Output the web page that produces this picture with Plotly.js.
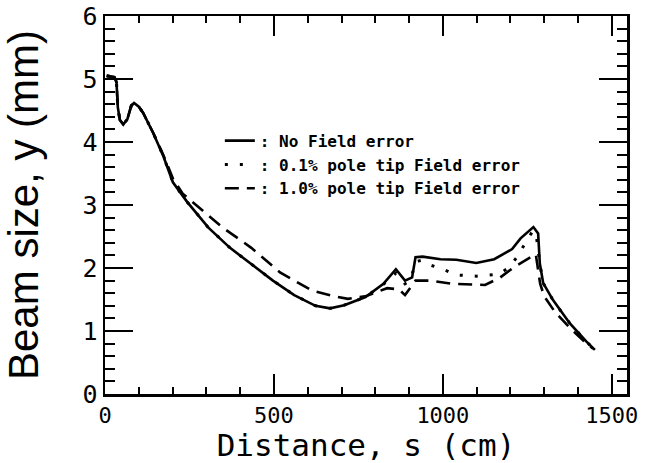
<!DOCTYPE html>
<html>
<head>
<meta charset="utf-8">
<script src="https://cdn.plot.ly/plotly-3.0.1.min.js"></script>
<style>html,body{margin:0;padding:0;background:#fff;}#chart{width:660px;height:463px;}</style>
</head>
<body>
<div id="chart"></div>
<script>
// Series: distance s (cm) and beam size y (mm)
const sNoError = [5, 28, 34, 38, 44, 54, 66, 78, 86, 100, 113, 143, 173, 201, 243, 306, 370, 433, 497, 560, 623, 666, 708, 771, 824, 861, 888, 909, 919, 940, 993, 1040, 1099, 1152, 1205, 1230, 1268, 1282, 1287, 1297, 1326, 1376, 1425, 1450];
const yNoError = [5.05, 5.03, 4.95, 4.55, 4.35, 4.28, 4.36, 4.58, 4.62, 4.56, 4.46, 4.14, 3.77, 3.36, 3.05, 2.64, 2.32, 2.06, 1.80, 1.57, 1.40, 1.36, 1.41, 1.54, 1.75, 1.98, 1.80, 1.85, 2.17, 2.18, 2.14, 2.13, 2.08, 2.14, 2.30, 2.47, 2.65, 2.55, 2.07, 1.76, 1.49, 1.12, 0.83, 0.70];

const sErr01 = [5, 28, 34, 38, 44, 54, 66, 78, 86, 100, 113, 143, 173, 201, 243, 306, 370, 433, 497, 560, 623, 666, 708, 771, 824, 861, 888, 905, 918, 935, 955, 1000, 1040, 1100, 1164, 1194, 1219, 1240, 1264, 1275, 1287, 1297, 1326, 1376, 1425, 1450];
const yErr01 = [5.05, 5.03, 4.95, 4.55, 4.35, 4.28, 4.36, 4.58, 4.62, 4.56, 4.46, 4.14, 3.77, 3.36, 3.05, 2.64, 2.32, 2.06, 1.80, 1.57, 1.40, 1.36, 1.41, 1.54, 1.74, 1.92, 1.75, 1.80, 2.10, 2.12, 2.06, 1.98, 1.89, 1.87, 1.90, 2.00, 2.17, 2.36, 2.57, 2.58, 2.07, 1.76, 1.49, 1.12, 0.83, 0.70];

const sErr10 = [5, 28, 34, 38, 44, 54, 66, 78, 86, 100, 113, 143, 173, 201, 230, 275, 349, 433, 518, 613, 680, 719, 770, 835, 870, 888, 919, 962, 1025, 1125, 1170, 1210, 1257, 1275, 1288, 1300, 1332, 1376, 1425, 1445];
const yErr10 = [5.05, 5.03, 4.95, 4.55, 4.35, 4.28, 4.36, 4.58, 4.62, 4.56, 4.46, 4.14, 3.79, 3.42, 3.18, 2.97, 2.64, 2.32, 1.93, 1.64, 1.55, 1.51, 1.55, 1.68, 1.66, 1.57, 1.80, 1.80, 1.75, 1.73, 1.85, 2.01, 2.17, 2.22, 1.75, 1.55, 1.30, 1.05, 0.80, 0.72];

const seriesNames = [': No Field error', ': 0.1% pole tip Field error', ': 1.0% pole tip Field error'];
const xTickVals = [0, 500, 1000, 1500];
const yTickVals = [0, 1, 2, 3, 4, 5, 6];

const traces = [
  {x: sNoError, y: yNoError, name: seriesNames[0], legendgroup: 'a', mode: 'lines',
   line: {color: '#000', width: 2.6, dash: 'solid'}},
  {x: sErr01, y: yErr01, name: seriesNames[1], legendgroup: 'b', mode: 'lines',
   line: {color: '#000', width: 3, dash: '3px,12px'}},
  {x: sErr10, y: yErr10, name: seriesNames[2], legendgroup: 'c', mode: 'lines',
   line: {color: '#000', width: 2.6, dash: '14px,8px'}}
];

const layout = {
  width: 660, height: 463,
  margin: {l: 105, r: 33, t: 16, b: 69},
  paper_bgcolor: '#fff', plot_bgcolor: '#fff',
  showlegend: true,
  legend: {x: 0.22, y: 0.715, xanchor: 'left', yanchor: 'top', bgcolor: 'rgba(0,0,0,0)',
           font: {family: 'DejaVu Sans Mono', size: 16, weight: 'bold', color: '#000'},
           tracegroupgap: 18, traceorder: 'normal'},
  xaxis: {
    range: [0, 1545], showgrid: false, zeroline: false, tickmode: 'array', tickvals: xTickVals,
    ticks: 'inside', ticklen: 20, tickwidth: 2.5, tickcolor: '#000',
    showline: true, linewidth: 2.5, linecolor: '#000', mirror: 'ticks',
    minor: {dtick: 100, ticks: 'inside', ticklen: 7, tickwidth: 2, tickcolor: '#000'},
    automargin: false,
    tickfont: {family: 'DejaVu Sans Mono', size: 22, color: '#000'},
    title: {text: 'Distance, s (cm)', font: {family: 'DejaVu Sans Mono', size: 31, color: '#000'}, standoff: 10}
  },
  yaxis: {
    range: [0, 6], showgrid: false, zeroline: false, tickmode: 'array', tickvals: yTickVals,
    ticks: 'inside', ticklen: 28, tickwidth: 2.5, tickcolor: '#000',
    showline: true, linewidth: 2.5, linecolor: '#000', mirror: 'ticks',
    minor: {dtick: 0.2, ticks: 'inside', ticklen: 10, tickwidth: 2, tickcolor: '#000'},
    automargin: false,
    tickfont: {family: 'DejaVu Sans Mono', size: 25, color: '#000'},
    title: {text: 'Beam size, y (mm)', font: {family: 'Liberation Sans', size: 42, color: '#000'}, standoff: 33}
  }
};

Plotly.newPlot('chart', traces, layout, {staticPlot: true, displayModeBar: false});
</script>
</body>
</html>
